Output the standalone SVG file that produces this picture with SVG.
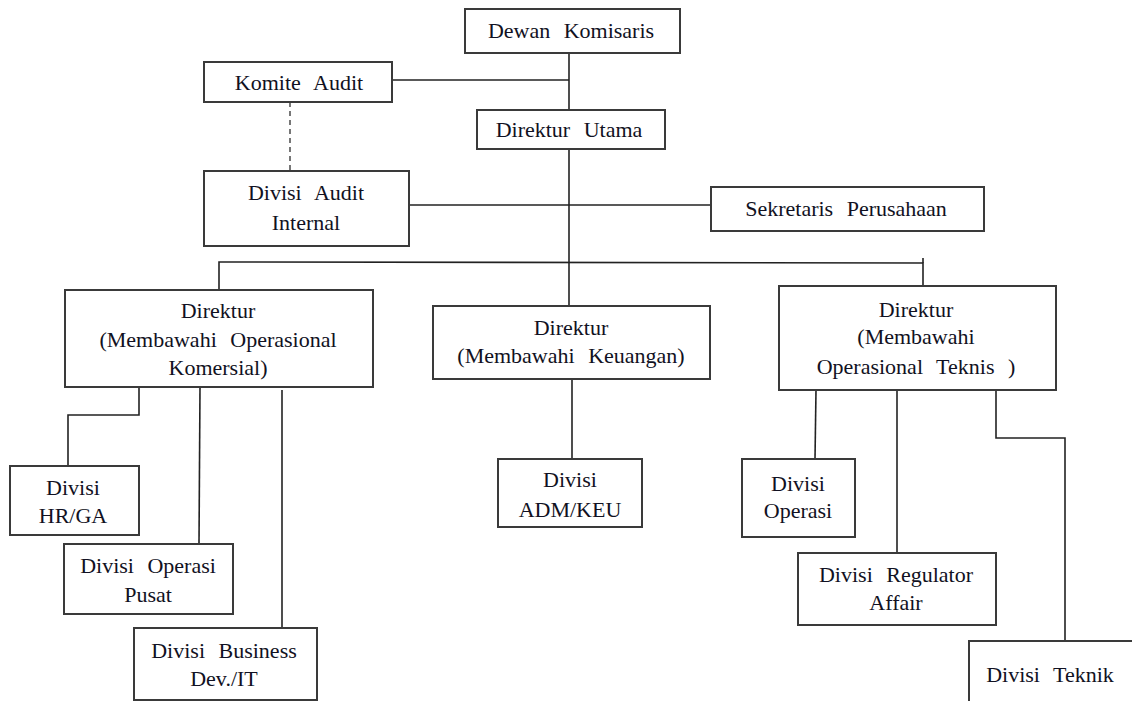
<svg xmlns="http://www.w3.org/2000/svg" width="1132" height="701" viewBox="0 0 1132 701">
<style>
.box{fill:#fff;stroke:#3a3a3a;stroke-width:2}
.ln{fill:none;stroke:#222;stroke-width:1.6}
.dash{fill:none;stroke:#555;stroke-width:1.6;stroke-dasharray:5,4}
.t text{font-size:22px;fill:#111122;text-anchor:middle;word-spacing:8px}
</style>
<rect width="1132" height="701" fill="#fff"/>
<g id="connectors">
<path class="ln" d="M569 53V110"/>
<path class="ln" d="M392 80H569"/>
<path class="dash" d="M290 102V171"/>
<path class="ln" d="M569 149V306"/>
<path class="ln" d="M409 205H711"/>
<path class="ln" d="M219 290V262L923 263V286"/>
<path class="ln" d="M923 258V263"/>
<path class="ln" d="M139 387V415H68V466"/>
<path class="ln" d="M200 387L199 544"/>
<path class="ln" d="M282 390V628"/>
<path class="ln" d="M572 379V459"/>
<path class="ln" d="M816 390L815 459"/>
<path class="ln" d="M897 390V553"/>
<path class="ln" d="M996 390V438H1065V641"/>
</g>
<g class="t" font-family="Liberation Serif, Times New Roman, serif">
<g id="dewan-komisaris"><rect class="box" x="465" y="9" width="215" height="44"/><text x="571" y="38">Dewan Komisaris</text></g>
<g id="komite-audit"><rect class="box" x="204" y="62" width="188" height="40"/><text x="299" y="90">Komite Audit</text></g>
<g id="direktur-utama"><rect class="box" x="477" y="110" width="188" height="39"/><text x="569" y="137">Direktur Utama</text></g>
<g id="divisi-audit-internal"><rect class="box" x="204" y="171" width="205" height="75"/><text x="306" y="200">Divisi Audit</text><text x="306" y="230">Internal</text></g>
<g id="sekretaris-perusahaan"><rect class="box" x="711" y="187" width="273" height="44"/><text x="846" y="216">Sekretaris Perusahaan</text></g>
<g id="direktur-komersial"><rect class="box" x="65" y="290" width="308" height="97"/><text x="218" y="318">Direktur</text><text x="218" y="347">(Membawahi Operasional</text><text x="218" y="375">Komersial)</text></g>
<g id="direktur-keuangan"><rect class="box" x="433" y="306" width="277" height="73"/><text x="571" y="335">Direktur</text><text x="571" y="363">(Membawahi Keuangan)</text></g>
<g id="direktur-teknis"><rect class="box" x="779" y="286" width="277" height="104"/><text x="916" y="317">Direktur</text><text x="916" y="344">(Membawahi</text><text x="916" y="374">Operasional Teknis )</text></g>
<g id="divisi-hrga"><rect class="box" x="10" y="466" width="129" height="69"/><text x="73" y="495">Divisi</text><text x="73" y="523">HR/GA</text></g>
<g id="divisi-operasi-pusat"><rect class="box" x="64" y="544" width="169" height="70"/><text x="148" y="573">Divisi Operasi</text><text x="148" y="602">Pusat</text></g>
<g id="divisi-business"><rect class="box" x="134" y="628" width="183" height="72"/><text x="224" y="658">Divisi Business</text><text x="224" y="686">Dev./IT</text></g>
<g id="divisi-admkeu"><rect class="box" x="498" y="459" width="144" height="68"/><text x="570" y="487">Divisi</text><text x="570" y="517">ADM/KEU</text></g>
<g id="divisi-operasi"><rect class="box" x="742" y="459" width="113" height="78"/><text x="798" y="491">Divisi</text><text x="798" y="518">Operasi</text></g>
<g id="divisi-regulator"><rect class="box" x="798" y="553" width="198" height="72"/><text x="896" y="582">Divisi Regulator</text><text x="896" y="610">Affair</text></g>
<g id="divisi-teknik"><rect class="box" x="969" y="641" width="190" height="80"/><text x="1050" y="682">Divisi Teknik</text></g>
</g>
</svg>
